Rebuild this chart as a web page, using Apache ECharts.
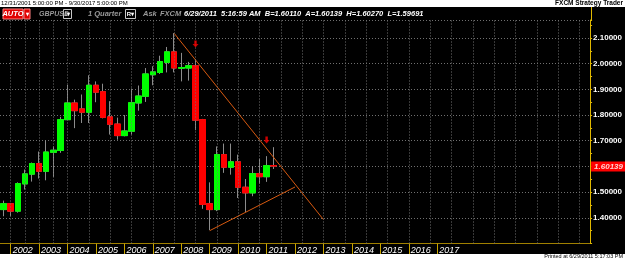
<!DOCTYPE html>
<html>
<head>
<meta charset="utf-8">
<script src="https://cdn.jsdelivr.net/npm/echarts@6/dist/echarts.min.js"></script>
<style>
  html, body { margin: 0; padding: 0; background: #000; }
  #main { width: 625px; height: 259px; }
</style>
</head>
<body>
<div id="main"></div>
<script>
// GBPUSD quarterly candles, 2001Q4 .. 2011Q2
var opens  = [1.432, 1.455, 1.426, 1.532, 1.570, 1.611, 1.581, 1.655, 1.662, 1.782,
              1.847, 1.824, 1.811, 1.916, 1.891, 1.793, 1.765, 1.720, 1.737, 1.847,
              1.873, 1.957, 1.966, 2.005, 2.046, 1.982, 1.983, 1.992, 1.782, 1.455,
              1.432, 1.646, 1.597, 1.618, 1.519, 1.497, 1.572, 1.560, 1.6035];
var closes = [1.455, 1.426, 1.533, 1.571, 1.611, 1.581, 1.656, 1.663, 1.782, 1.847,
              1.817, 1.811, 1.916, 1.889, 1.791, 1.764, 1.720, 1.738, 1.848, 1.874,
              1.960, 1.968, 2.008, 2.046, 1.983, 1.985, 1.992, 1.780, 1.452, 1.432,
              1.646, 1.597, 1.618, 1.519, 1.497, 1.572, 1.560, 1.603, 1.6014];
var lows   = [1.406, 1.406, 1.420, 1.510, 1.541, 1.553, 1.546, 1.559, 1.653, 1.780,
              1.749, 1.769, 1.769, 1.850, 1.787, 1.724, 1.704, 1.717, 1.724, 1.817,
              1.851, 1.916, 1.960, 1.966, 1.966, 1.931, 1.934, 1.741, 1.435, 1.352,
              1.426, 1.575, 1.568, 1.477, 1.422, 1.484, 1.533, 1.540, 1.590];
var highs  = [1.467, 1.458, 1.538, 1.588, 1.615, 1.658, 1.702, 1.678, 1.793, 1.917,
              1.860, 1.880, 1.955, 1.931, 1.922, 1.854, 1.790, 1.800, 1.903, 1.915,
              1.983, 1.990, 2.031, 2.065, 2.119, 2.042, 2.007, 2.018, 1.785, 1.538,
              1.678, 1.689, 1.689, 1.646, 1.551, 1.601, 1.630, 1.640, 1.675];

var yearLabels = ['2002', '2003', '2004', '2005', '2006', '2007', '2008', '2009',
                  '2010', '2011', '2012', '2013', '2014', '2015', '2016', '2017'];

// fractal markers [quarter index, price]
var arrowMarks = [[27, 2.077], [37, 1.703]];
// triangle trend lines [quarter index, price]
var trendUpper = [[24, 2.118], [45, 1.393]];
var trendLower = [[29, 1.350], [41, 1.520]];

var askPrice = 1.60139;

// x slots: 2001Q4 and onward, empty slots to the right edge
var slotCount = 83;
var quarters = [];
for (var i = 0; i < slotCount; i++) {
    var q = 3 + i;
    quarters.push((2001 + Math.floor(q / 4)) + 'Q' + (q % 4 + 1));
}
// quarters with a dotted vertical grid line
var gridQuarters = [1, 3, 5, 7, 9];
for (var g = 12; g < slotCount; g += 3) gridQuarters.push(g);

var wickData = [], bodyData = [];
for (var k = 0; k < opens.length; k++) {
    wickData.push([opens[k], closes[k], lows[k], highs[k]]);
    bodyData.push([opens[k], closes[k], Math.min(opens[k], closes[k]), Math.max(opens[k], closes[k])]);
}

function isYearTick(index, value) {
    return value.slice(4) === 'Q1' && yearLabels.indexOf(value.slice(0, 4)) >= 0;
}

var FONT = 'Liberation Sans';
var gold = '#e0b800';
var dotted = { color: '#707070', type: [1, 2], width: 1 };

function txt(x, y, s, fill, size, extra) {
    var st = { text: s, x: x, y: y, fill: fill, fontFamily: FONT, fontSize: size,
               fontWeight: 'bold', fontStyle: 'italic', verticalAlign: 'middle' };
    for (var p in (extra || {})) st[p] = extra[p];
    return { type: 'text', z: 100, style: st };
}

var chart = echarts.init(document.getElementById('main'), null, { renderer: 'canvas' });

var option = {
    backgroundColor: '#000000',
    animation: false,
    grid: { left: 0, right: 33, top: 20, bottom: 15.5 },
    xAxis: {
        type: 'category',
        data: quarters,
        boundaryGap: true,
        axisLine: { lineStyle: { color: '#a08000', width: 1 } },
        axisTick: { show: true, alignWithLabel: true, interval: isYearTick, length: 11,
                    lineStyle: { color: '#c8a400' } },
        axisLabel: {
            interval: isYearTick,
            formatter: function (v) { return v.slice(0, 4); },
            color: '#ffffff', fontFamily: FONT, fontSize: 9, fontStyle: 'italic',
            align: 'left', padding: [0, 0, 0, 2], margin: 2
        },
        splitLine: { show: false }
    },
    yAxis: {
        type: 'value',
        position: 'right',
        min: 1.3,
        max: 2.17,
        interval: 0.1,
        axisLine: { show: true, lineStyle: { color: gold, width: 1 } },
        axisTick: { show: true, length: 2, lineStyle: { color: gold } },
        minorTick: { show: true, splitNumber: 2, length: 2, lineStyle: { color: gold } },
        axisLabel: {
            showMaxLabel: false,
            formatter: function (v) { return (v < 1.35 || v > 2.15) ? '' : v.toFixed(5); },
            color: '#ffffff', fontFamily: FONT, fontSize: 8, fontWeight: 'bold', margin: 3
        },
        splitLine: { show: true, lineStyle: dotted }
    },
    series: [
        {
            type: 'candlestick',
            name: 'wick',
            data: wickData,
            barWidth: 6,
            itemStyle: { color: '#8c8c8c', color0: '#8c8c8c', borderColor: '#8c8c8c', borderColor0: '#8c8c8c', borderWidth: 1 },
            markLine: {
                silent: true,
                symbol: 'none',
                label: { show: false },
                lineStyle: dotted,
                data: gridQuarters.map(function (i) { return { xAxis: quarters[i] }; })
            },
            z: 2
        },
        {
            type: 'candlestick',
            name: 'body',
            data: bodyData,
            barWidth: 6,
            itemStyle: { color: '#00ff00', color0: '#ff0000', borderColor: '#00ff00', borderColor0: '#ff0000', borderWidth: 1 },
            markLine: {
                silent: true,
                symbol: 'none',
                lineStyle: { color: 'rgba(0,0,0,0)', width: 1, type: 'solid' },
                label: {
                    show: true, position: 'end', distance: 1,
                    formatter: askPrice.toFixed(5),
                    backgroundColor: '#ff0000', color: '#ffd0d0',
                    fontFamily: FONT, fontSize: 8, fontWeight: 'bold', fontStyle: 'italic',
                    padding: [1, 2, 1, 3]
                },
                data: [{ yAxis: askPrice }]
            },
            z: 3
        },
        {
            type: 'line', data: trendUpper, symbol: 'none', silent: true, z: 4,
            lineStyle: { color: '#d85a10', width: 1 }
        },
        {
            type: 'line', data: trendLower, symbol: 'none', silent: true, z: 4,
            lineStyle: { color: '#d85a10', width: 1 }
        },
        {
            type: 'scatter', data: arrowMarks, silent: true, z: 5,
            symbol: 'path://M3,0 L7,0 L7,5 L10,5 L5,10 L0,5 L3,5 Z',
            symbolSize: [6, 7],
            itemStyle: { color: '#ff0000' }
        }
    ],
    graphic: [
        // white title strip and footer strip
        { type: 'rect', z: 90, shape: { x: 0, y: 0, width: 625, height: 7 }, style: { fill: '#ffffff' } },
        { type: 'rect', z: 90, shape: { x: 0, y: 254, width: 625, height: 5 }, style: { fill: '#ffffff' } },
        txt(1, 3.5, '12/31/2001 5:00:00 PM - 9/30/2017 5:00:00 PM', '#000000', 6, { fontWeight: 'normal', fontStyle: 'normal' }),
        txt(623, 3.5, 'FXCM Strategy Trader', '#000000', 6.5, { fontStyle: 'normal', align: 'right' }),
        txt(623, 256.5, 'Printed at 6/29/2011 5:17:03 PM', '#000000', 5.5, { fontWeight: 'normal', fontStyle: 'normal', align: 'right' }),
        // axis line running up through the toolbar
        { type: 'line', z: 90, shape: { x1: 591.5, y1: 7, x2: 591.5, y2: 20 }, style: { stroke: gold, lineWidth: 1 } },
        // toolbar
        { type: 'rect', z: 95, shape: { x: 3, y: 9, width: 20, height: 10 }, style: { fill: '#e00000', stroke: '#ff8080', lineWidth: 1 } },
        txt(13, 14, 'AUTO', '#ffffff', 7.5, { align: 'center' }),
        { type: 'rect', z: 95, shape: { x: 24, y: 9, width: 6, height: 10 }, style: { fill: '#e00000', stroke: '#ff8080', lineWidth: 1 } },
        txt(27, 14, '▾', '#ffffff', 6, { align: 'center', fontStyle: 'normal' }),
        txt(39, 14, 'GBPUSD', '#9a9a9a', 7),
        { type: 'rect', z: 95, shape: { x: 63.5, y: 9.5, width: 8, height: 9 }, style: { fill: 'none', stroke: '#c8c8c8', lineWidth: 1 } },
        txt(67.5, 14, 'I▾', '#ffffff', 5.5, { align: 'center', fontStyle: 'normal' }),
        txt(88, 14, '1 Quarter', '#9a9a9a', 7.5),
        { type: 'rect', z: 95, shape: { x: 125.5, y: 9.5, width: 10, height: 9 }, style: { fill: 'none', stroke: '#c8c8c8', lineWidth: 1 } },
        txt(130.5, 14, 'R▾', '#ffffff', 6, { align: 'center', fontStyle: 'normal' }),
        txt(143, 14, 'Ask', '#9a9a9a', 7.5),
        txt(160, 14, 'FXCM', '#9a9a9a', 7.5),
        txt(184, 14, '6/29/2011  5:16:59 AM  B=1.60110  A=1.60139  H=1.60270  L=1.59691', '#ffffff', 7.5)
    ]
};

chart.setOption(option);
</script>
</body>
</html>
